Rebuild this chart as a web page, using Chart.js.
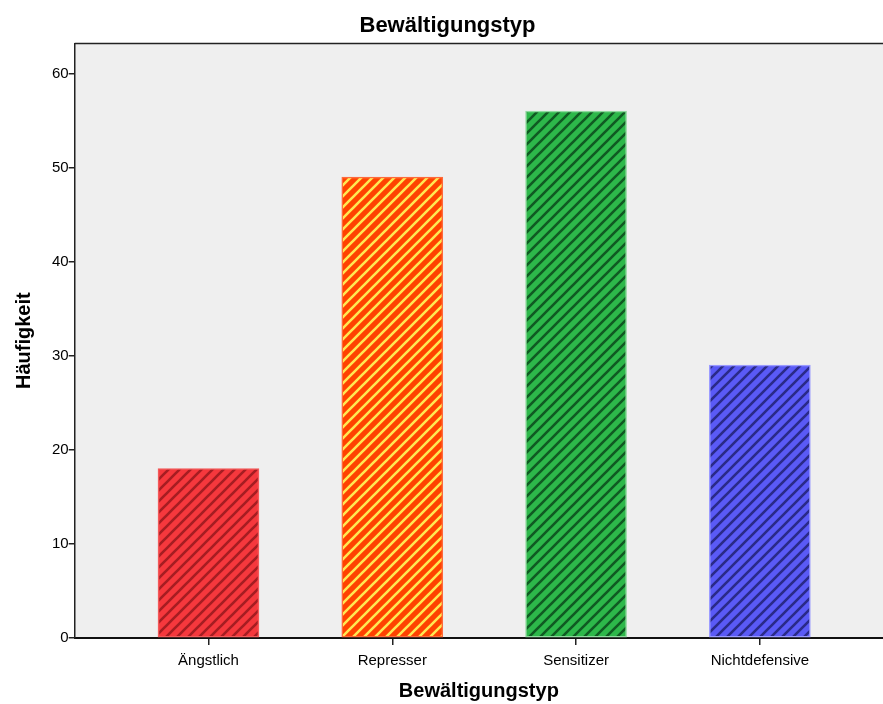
<!DOCTYPE html>
<html lang="de">
<head>
  <meta charset="UTF-8">
  <title>Bewältigungstyp</title>
  <script src="https://cdn.jsdelivr.net/npm/chart.js"></script>
  <style>
    body { margin: 0; background: #fff; }
    #wrap { width: 883px; height: 704px; }
  </style>
</head>
<body>
  <div id="wrap"><canvas id="c"></canvas></div>
  <script>
    const categories = ["Ängstlich", "Represser", "Sensitizer", "Nichtdefensive"];
    const counts = [18, 49, 56, 29];
    const yTicks = [0, 10, 20, 30, 40, 50, 60];

    // Schraffur: Grundfarbe + diagonale Linien
    function hatch(bg, line) {
      const s = 11;
      const c = document.createElement("canvas");
      c.width = s; c.height = s;
      const g = c.getContext("2d");
      g.fillStyle = bg;
      g.fillRect(0, 0, s, s);
      g.strokeStyle = line;
      g.lineWidth = 2.6;
      g.beginPath();
      g.moveTo(0, s); g.lineTo(s, 0);
      g.moveTo(-2, 2); g.lineTo(2, -2);
      g.moveTo(s - 2, s + 2); g.lineTo(s + 2, s - 2);
      g.stroke();
      return g.createPattern(c, "repeat");
    }

    const fills = [
      hatch("#f5383d", "#a51d22"),
      hatch("#ff4200", "#ffe852"),
      hatch("#2db84a", "#105a22"),
      hatch("#5a5af6", "#2a2a88")
    ];
    const borders = ["#f25a5a", "#ff6a3a", "#8fd99e", "#9a9aff"];

    const plotBg = {
      id: "plotBg",
      beforeDraw(chart) {
        const { ctx, chartArea: a } = chart;
        ctx.save();
        ctx.fillStyle = "#efefef";
        ctx.fillRect(a.left, a.top, a.right - a.left, a.bottom - a.top);
        ctx.restore();
      },
      afterDraw(chart) {
        const { ctx, chartArea: a } = chart;
        ctx.save();
        ctx.strokeStyle = "#222";
        ctx.lineWidth = 1.5;
        ctx.beginPath();
        ctx.moveTo(a.left, a.top);
        ctx.lineTo(a.right, a.top);
        ctx.stroke();
        ctx.restore();
      }
    };

    const font = "Liberation Sans, Arial, sans-serif";

    new Chart(document.getElementById("c"), {
      type: "bar",
      data: {
        datasets: [{
          data: counts.map((v, i) => ({ x: i + 1, y: v })),
          backgroundColor: fills,
          borderColor: borders,
          borderWidth: 1.5,
          borderSkipped: false,
          barThickness: 101
        }]
      },
      options: {
        responsive: true,
        maintainAspectRatio: false,
        animation: false,
        layout: { padding: { left: 12, right: 0, top: 3, bottom: 1 } },
        plugins: {
          legend: { display: false },
          tooltip: { enabled: false },
          title: {
            display: true,
            text: "Bewältigungstyp",
            color: "#000",
            font: { family: font, size: 22, weight: "bold" },
            padding: { top: 10, bottom: 4 }
          }
        },
        scales: {
          x: {
            type: "linear",
            offset: false,
            min: 0.272,
            max: 4.67,
            afterBuildTicks: (axis) => {
              axis.ticks = categories.map((c, i) => ({ value: i + 1 }));
            },
            ticks: {
              color: "#000",
              font: { family: font, size: 15 },
              padding: 7,
              maxRotation: 0,
              callback: (v) => categories[v - 1]
            },
            grid: { offset: false, drawOnChartArea: false, drawTicks: true, tickLength: 7, color: "#222", lineWidth: 1.5 },
            border: { display: true, color: "#111", width: 2 },
            title: {
              display: true,
              text: "Bewältigungstyp",
              color: "#000",
              font: { family: font, size: 20, weight: "bold" },
              padding: { top: 2, bottom: 0 }
            }
          },
          y: {
            min: 0,
            max: 63.2,
            afterBuildTicks: (axis) => {
              axis.ticks = yTicks.map(v => ({ value: v }));
            },
            ticks: {
              color: "#000",
              font: { family: font, size: 15 },
              padding: 0
            },
            grid: { drawOnChartArea: false, drawTicks: true, tickLength: 6, color: "#222", lineWidth: 1.5 },
            border: { display: true, color: "#222", width: 1.5 },
            title: {
              display: true,
              text: "Häufigkeit",
              color: "#000",
              font: { family: font, size: 20, weight: "bold" },
              padding: { top: 0, bottom: 16 }
            }
          }
        }
      },
      plugins: [plotBg]
    });
  </script>
</body>
</html>
